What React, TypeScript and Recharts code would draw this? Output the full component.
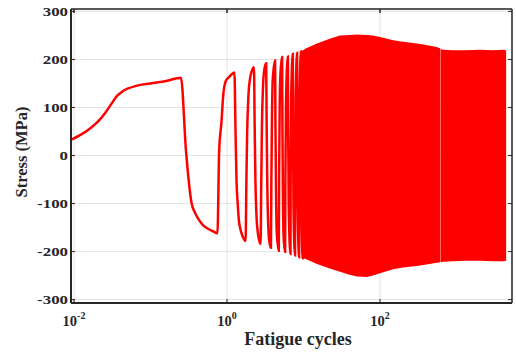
// stress response of a cyclic fatigue test, drawn on a log cycle axis.
// early loops are drawn one by one, the dense part later on is drawn as a filled band
// between the peak and valley envelopes (the loops there are too tight to see apart).

import {
  ComposedChart,
  Line,
  Area,
  XAxis,
  YAxis,
  CartesianGrid,
  ReferenceLine,
} from "recharts";

// first quarter cycle + the first ~10 visible loops (cycle count, stress in MPa)
const loopCycles = [
  0.0092, 0.0125, 0.017, 0.021, 0.0254, 0.031, 0.036, 0.042, 0.05, 0.065, 0.1, 0.16, 0.25,
  0.291, 0.345, 0.382, 0.434, 0.485, 0.57, 0.66, 0.75,
  0.79, 0.847, 0.895, 0.97, 1.06, 1.25,
  1.29, 1.33, 1.38, 1.43, 1.48, 1.6, 1.75,
  1.79, 1.83, 1.9, 2.0, 2.1, 2.25,
  2.3, 2.35, 2.42, 2.55, 2.75,
  2.8, 2.86, 2.95, 3.05, 3.25,
  3.3, 3.36, 3.45, 3.55, 3.75,
  3.8, 3.87, 3.97, 4.25,
  4.3, 4.37, 4.47, 4.75,
  4.8, 4.88, 5.0, 5.25,
  5.3, 5.38, 5.5, 5.75,
  5.8, 5.9, 6.25,
  6.3, 6.4, 6.75,
  6.8, 6.9, 7.25,
  7.3, 7.4, 7.75,
  7.8, 7.9, 8.25,
  8.3, 8.4, 8.75,
  8.8, 8.9, 9.25,
  9.3, 9.4, 9.75,
  9.8, 9.9, 10.25,
];
const loopStress = [
  33, 44, 59, 72, 88, 108, 123, 132, 139, 145, 150, 155, 162,
  10, -100, -119, -135, -145, -153, -158, -162,
  10, 70, 128, 156, 163, 173,
  60, -50, -100, -135, -150, -168, -178,
  -60, 40, 120, 160, 175, 184,
  60, -50, -120, -165, -184,
  -60, 60, 140, 175, 192,
  60, -60, -140, -175, -192,
  -50, 80, 160, 198,
  60, -70, -160, -198,
  -40, 100, 170, 205,
  60, -80, -170, -201,
  -40, 110, 206,
  60, -100, -205,
  -40, 120, 212,
  60, -110, -208,
  -40, 120, 214,
  60, -110, -212,
  -40, 120, 217,
  60, -110, -214,
  -40, 120, 219,
];

// envelope of the dense part: peak (high) and valley (low) stress per cycle count
const bandCycles = [9.5, 10.5, 15, 22, 30, 40, 50, 67, 81, 110, 149, 200, 303, 370, 550, 616];
const bandHigh = [217, 222, 233, 243, 250, 251, 252, 251, 250, 245, 240, 237, 233, 231, 226, 223];
const bandLow = [-214, -215, -226, -235, -242, -248, -252, -253, -250, -243, -237, -233, -230, -228, -223, -222];

// the picture has a faint white seam around 620 cycles, so the tail is its own band
const tailCycles = [621, 675, 900, 1350, 2000, 3000, 4100, 4450];
const tailHigh = [221, 220, 219, 219, 220, 219, 220, 219];
const tailLow = [-222, -221, -220, -219, -219, -220, -220, -219];

const xTicks = [0.01, 1, 100];
const xTickExp = ["-2", "0", "2"];
const yTicks = [-300, -200, -100, 0, 100, 200, 300];

const X_DOMAIN = [0.00914, 5309];
const Y_DOMAIN = [-307, 305];

// plot box in page pixels, used for the inward tick marks on all four sides
const BOX = { left: 71, right: 512, top: 9, bottom: 303 };

const RED = "#ff0000";
const INK = "#262626";
const FONT = "Liberation Serif";

const loopData = loopCycles.map((c, i) => ({ cycle: c, stress: loopStress[i] }));
const bandData = bandCycles.map((c, i) => ({ cycle: c, range: [bandLow[i], bandHigh[i]] }));
const tailData = tailCycles.map((c, i) => ({ cycle: c, range: [tailLow[i], tailHigh[i]] }));

function YTick(props: any) {
  const { x, y, payload } = props;
  return (
    <g>
      <line x1={BOX.left} x2={BOX.left + 4} y1={y} y2={y} stroke={INK} strokeWidth={1} />
      <line x1={BOX.right - 4} x2={BOX.right} y1={y} y2={y} stroke={INK} strokeWidth={1} />
      <text
        transform={`translate(${x},${y}) scale(1.25,1)`}
        textAnchor="end"
        dominantBaseline="central"
        fontFamily={FONT}
        fontWeight="bold"
        fontSize={13.5}
        fill={INK}
      >
        {payload.value}
      </text>
    </g>
  );
}

function XTick(props: any) {
  const { x, y, payload } = props;
  const idx = xTicks.indexOf(payload.value);
  return (
    <g>
      <line x1={x} x2={x} y1={BOX.bottom} y2={BOX.bottom - 4} stroke={INK} strokeWidth={1} />
      <line x1={x} x2={x} y1={BOX.top} y2={BOX.top + 4} stroke={INK} strokeWidth={1.5} />
      <text
        x={x}
        y={y + 13}
        textAnchor="middle"
        fontFamily={FONT}
        fontWeight="bold"
        fontSize={14.5}
        fill={INK}
      >
        10
        <tspan fontSize={10} dy={-7}>
          {xTickExp[idx]}
        </tspan>
      </text>
    </g>
  );
}

export default function App() {
  return (
    <div style={{ position: "absolute", left: 0, top: 0, width: 516, height: 352, background: "#fff" }}>
      <ComposedChart width={516} height={352} margin={{ top: 9, right: 4, bottom: 0, left: 0 }}>
        <CartesianGrid stroke="#e3e3e3" strokeWidth={1} />
        <XAxis
          dataKey="cycle"
          type="number"
          scale="log"
          domain={X_DOMAIN}
          allowDataOverflow
          ticks={xTicks}
          tick={<XTick />}
          tickLine={false}
          tickSize={0}
          tickMargin={10}
          height={49}
          axisLine={{ stroke: INK, strokeWidth: 2 }}
          label={{
            content: () => (
              <text
                x={298}
                y={345}
                textAnchor="middle"
                fontFamily={FONT}
                fontWeight="bold"
                fontSize={18}
                fill={INK}
              >
                Fatigue cycles
              </text>
            ),
          }}
        />
        <YAxis
          type="number"
          domain={Y_DOMAIN}
          allowDataOverflow
          ticks={yTicks}
          tick={<YTick />}
          tickLine={false}
          tickSize={0}
          tickMargin={3}
          width={71}
          axisLine={{ stroke: INK, strokeWidth: 2 }}
          label={{
            content: () => (
              <text
                transform="translate(27,152) rotate(-90)"
                textAnchor="middle"
                fontFamily={FONT}
                fontWeight="bold"
                fontSize={16.5}
                fill={INK}
              >
                Stress (MPa)
              </text>
            ),
          }}
        />
        <ReferenceLine y={Y_DOMAIN[1]} stroke={INK} strokeWidth={1.5} />
        <ReferenceLine x={X_DOMAIN[1]} stroke={INK} strokeWidth={1.5} />
        <Area
          data={bandData}
          dataKey="range"
          type="linear"
          fill={RED}
          fillOpacity={1}
          stroke="none"
          isAnimationActive={false}
        />
        <Area
          data={tailData}
          dataKey="range"
          type="linear"
          fill={RED}
          fillOpacity={1}
          stroke="none"
          isAnimationActive={false}
        />
        <Line
          data={loopData}
          dataKey="stress"
          type="monotone"
          stroke={RED}
          strokeWidth={2.5}
          dot={false}
          isAnimationActive={false}
        />
      </ComposedChart>
    </div>
  );
}
